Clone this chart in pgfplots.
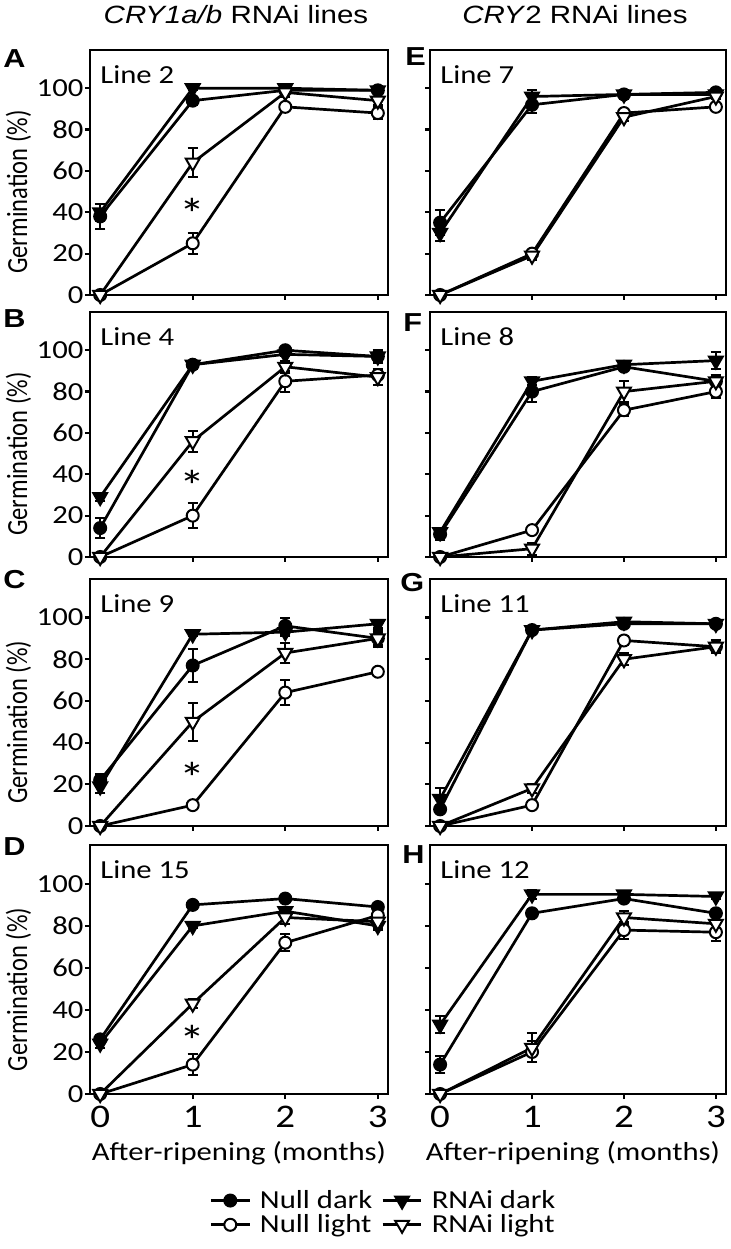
\documentclass[border=0pt]{standalone}
\usepackage{fontspec}
\setmainfont{Carlito}[FakeStretch=1.18]
\newfontfamily\arialf{Liberation Sans}[FakeStretch=1.18]
\newfontfamily\ylabfont{Carlito}[FakeStretch=0.84]
\usepackage{pgfplots}
\usepackage{pgfplotstable}
\pgfplotsset{compat=1.18}

\pgfplotstableread{
x nd nde rd rde nl nle rl rle
0 38 6 40 4 0 0 0 0
1 94 2 100 1 25 5 64 7
2 99 1 100 1 91 1 98 2
3 99 1 99 2 88 3 94 2
}\dataA
\pgfplotstableread{
x nd nde rd rde nl nle rl rle
0 14 5 29 2 0 0 0 0
1 93 1 93 2 20 6 56 5
2 100 1 98 1 85 5 92 3
3 97 2 97 3 88 2 87 4
}\dataB
\pgfplotstableread{
x nd nde rd rde nl nle rl rle
0 22 3 19 3 0 0 0 0
1 77 8 92 1 10 1 50 9
2 96 4 93 2 64 6 83 5
3 90 3 97 2 74 1 90 4
}\dataC
\pgfplotstableread{
x nd nde rd rde nl nle rl rle
0 26 2 24 2 0 0 0 0
1 90 2 80 1 14 5 43 2
2 93 1 87 2 72 4 84 3
3 89 2 80 2 85 2 82 3
}\dataD
\pgfplotstableread{
x nd nde rd rde nl nle rl rle
0 35 6 30 4 0 0 0 0
1 92 4 96 3 20 2 19 2
2 97 2 97 2 88 2 86 2
3 98 1 97 1 91 2 96 1
}\dataE
\pgfplotstableread{
x nd nde rd rde nl nle rl rle
0 11 3 12 2 0 0 0 0
1 80 5 85 2 13 2 4 3
2 92 2 93 2 71 3 80 5
3 85 3 95 4 80 3 85 3
}\dataF
\pgfplotstableread{
x nd nde rd rde nl nle rl rle
0 8 2 13 5 0 0 0 0
1 94 2 94 2 10 2 18 2
2 97 1 98 1 89 2 80 3
3 97 2 97 2 86 2 86 3
}\dataG
\pgfplotstableread{
x nd nde rd rde nl nle rl rle
0 14 4 33 4 0 0 0 0
1 86 1 95 2 20 5 22 7
2 93 1 95 1 78 4 84 3
3 86 2 94 1 77 4 81 3
}\dataH

\pgfplotsset{
  panel/.style={
    scale only axis, anchor=south west,
    xmin=-0.11, xmax=3.11, ymin=0, ymax=118.5,
    xtick={0,1,2,3}, ytick={0,20,40,60,80,100},
    tick align=outside, xtick pos=bottom, ytick pos=left,
    major tick length=2.5pt,
    tick style={black, line width=1.1pt},
    axis line style={line width=1.3pt},
    clip=false,
    /pgf/number format/assume math mode=true,
    yticklabel style={font=\fontsize{13}{14}\selectfont, inner sep=0.6pt},
    xticklabel style={font=\fontsize{16.5}{18}\selectfont},
  },
  leftpanel/.style={panel, width=149pt,
    ylabel={Germination (\%)},
    ylabel style={font=\ylabfont\fontsize{14.6}{16}\selectfont, at={(ticklabel cs:0.42)}, inner sep=2pt},
  },
  rightpanel/.style={panel, width=148pt, yticklabels={}},
  toprow/.style={xticklabels={}},
  botrow/.style={xlabel={After-ripening (months)},
    xlabel style={font=\fontsize{13}{15}\selectfont}},
  eb/.style={error bars/y dir=both, error bars/y explicit,
    error bars/error bar style={line width=1pt, black},
    error bars/error mark options={rotate=90, line width=1pt, mark size=2.6pt, black}},
  nd/.style={black, line width=1.35pt, mark=*, mark size=3pt, mark options={solid, fill=black, line width=1pt}, eb},
  rd/.style={black, line width=1.35pt, mark=triangle*, mark size=4pt, mark options={solid, rotate=180, fill=black, line width=1pt}, eb},
  nl/.style={black, line width=1.35pt, mark=*, mark size=3pt, mark options={solid, fill=white, line width=1pt}, eb},
  rl/.style={black, line width=1.35pt, mark=triangle*, mark size=4pt, mark options={solid, rotate=180, fill=white, line width=1pt}, eb},
}
\tikzset{
  linelab/.style={anchor=north west, inner sep=0pt, xshift=5pt, yshift=-7.5pt, font=\fontsize{13}{14}\selectfont},
  starlab/.style={anchor=north, inner sep=0pt, font=\fontsize{22}{22}\selectfont},
  letter/.style={anchor=north west, inner sep=0pt, font=\arialf\bfseries\fontsize{13}{14}\selectfont},
}
\newcommand{\fourplots}[1]{%
  \addplot[nd] table[x=x,y=nd,y error=nde]{#1};
  \addplot[rd] table[x=x,y=rd,y error=rde]{#1};
  \addplot[nl] table[x=x,y=nl,y error=nle]{#1};
  \addplot[rl] table[x=x,y=rl,y error=rle]{#1};
}

\begin{document}
\begin{tikzpicture}
\useasboundingbox (0,0) rectangle (365pt,624.5pt);

\node[anchor=base, inner sep=0pt, font=\arialf\fontsize{12.5}{14}\selectfont] at (118pt,612.5pt) {\textit{CRY1a/b} RNAi lines};
\node[anchor=base, inner sep=0pt, font=\arialf\fontsize{12.5}{14}\selectfont] at (287.5pt,612.5pt) {\textit{CRY}2 RNAi lines};

\node[letter] at (1.5pt,600pt) {A};
\node[letter] at (1.5pt,470pt) {B};
\node[letter] at (1.5pt,339.5pt) {C};
\node[letter] at (1.5pt,206pt) {D};
\node[letter] at (202.5pt,601pt) {E};
\node[letter] at (201.5pt,468pt) {F};
\node[letter] at (200pt,338pt) {G};
\node[letter] at (201pt,202pt) {H};

\begin{axis}[leftpanel, toprow, at={(45pt,477pt)}, height=122.5pt]
\fourplots{\dataA}
\node[linelab] at (rel axis cs:0,1) {Line 2};
\node[starlab] at (axis cs:1,47) {*};
\end{axis}

\begin{axis}[leftpanel, toprow, at={(45pt,346pt)}, height=122.5pt]
\fourplots{\dataB}
\node[linelab] at (rel axis cs:0,1) {Line 4};
\node[starlab] at (axis cs:1,42) {*};
\end{axis}

\begin{axis}[leftpanel, toprow, at={(45pt,211.5pt)}, height=123.5pt]
\fourplots{\dataC}
\node[linelab] at (rel axis cs:0,1) {Line 9};
\node[starlab] at (axis cs:1,31) {*};
\end{axis}

\begin{axis}[leftpanel, botrow, at={(45pt,77.5pt)}, height=124.5pt,
  legend columns=2,
  legend style={at={(axis description cs:0.40,-0.38)}, anchor=north west, draw=none, fill=none,
    inner sep=0pt, font=\fontsize{13}{14}\selectfont,
    nodes={inner sep=0.5pt}, column sep=4pt, row sep=0.6pt},
  legend cell align=left,
  legend image code/.code={\draw[mark repeat=2,mark phase=2,#1] plot coordinates {(0cm,0cm) (0.34cm,0cm) (0.68cm,0cm)};}]
\fourplots{\dataD}
\addlegendentry{Null dark}
\addlegendentry{RNAi dark}
\addlegendentry{Null light}
\addlegendentry{RNAi light}
\node[linelab] at (rel axis cs:0,1) {Line 15};
\node[starlab] at (axis cs:1,33) {*};
\end{axis}

\begin{axis}[rightpanel, toprow, at={(215pt,477pt)}, height=122.5pt]
\fourplots{\dataE}
\node[linelab] at (rel axis cs:0,1) {Line 7};
\end{axis}

\begin{axis}[rightpanel, toprow, at={(215pt,346pt)}, height=122.5pt]
\fourplots{\dataF}
\node[linelab] at (rel axis cs:0,1) {Line 8};
\end{axis}

\begin{axis}[rightpanel, toprow, at={(215pt,211.5pt)}, height=123.5pt]
\fourplots{\dataG}
\node[linelab] at (rel axis cs:0,1) {Line 11};
\end{axis}

\begin{axis}[rightpanel, botrow, at={(215pt,77.5pt)}, height=124.5pt,
  xlabel style={xshift=-2.5pt}]
\fourplots{\dataH}
\node[linelab] at (rel axis cs:0,1) {Line 12};
\end{axis}
\end{tikzpicture}
\end{document}
